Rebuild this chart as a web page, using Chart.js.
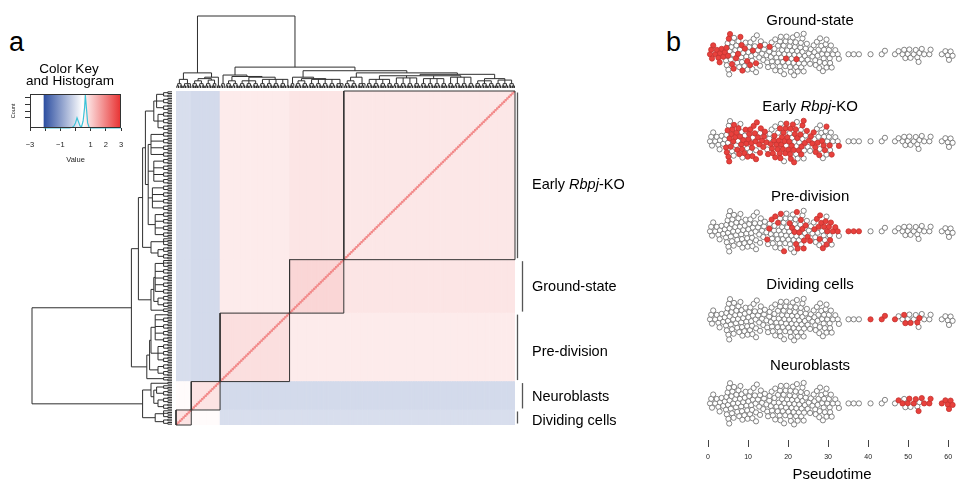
<!DOCTYPE html>
<html>
<head>
<meta charset="utf-8">
<title>Cell correlation heatmap and pseudotime</title>
<script src="https://cdn.jsdelivr.net/npm/chart.js@4.4.1/dist/chart.umd.min.js"></script>
<style>
  html, body { margin: 0; padding: 0; background: #fff; }
  body { width: 961px; height: 487px; position: relative; overflow: hidden; font-family: "Liberation Sans", Arial, sans-serif; }
  canvas { position: absolute; }
  .tag { position: absolute; font-size: 27px; line-height: 31px; color: #000; }
</style>
</head>
<body>
<div class="tag" style="left:9px;top:27px">a</div>
<div class="tag" style="left:666px;top:27px">b</div>
<canvas id="keyChart" width="135" height="110" style="left:0;top:60px"></canvas>
<canvas id="topTree" width="352" height="84" style="left:170px;top:10px"></canvas>
<canvas id="leftTree" width="153" height="346" style="left:25px;top:85px"></canvas>
<canvas id="heatChart" width="480" height="346" style="left:170px;top:85px"></canvas>
<canvas id="swarmChart" width="271" height="487" style="left:690px;top:0"></canvas>
<script>
// groups, in the order of the heatmap columns (left to right)
const groupNames = ['Dividing cells', 'Neuroblasts', 'Pre-division', 'Ground-state', 'Early Rbpj-KO'];

// pseudotime of every cell, per group
const ptDividing = [40.6, 43.4, 44.2, 46.7, 49.0, 49.3, 50.6, 52.3, 52.8];
const ptNeuroblasts = [47.6, 48.6, 49.9, 50.3, 51.4, 51.9, 52.6, 53.4, 54.0, 55.3, 55.6, 58.4, 59.3, 59.9, 60.2,
  60.6, 61.1];
const ptPreDivision = [14.8, 15.3, 15.9, 16.8, 17.5, 18.2, 19.0, 20.4, 21.0, 21.6, 22.0, 22.2, 22.4, 22.8, 23.2,
  23.6, 23.9, 24.0, 24.4, 24.9, 25.5, 26.6, 27.2, 27.6, 27.9, 28.0, 28.3, 28.7, 29.0, 29.4, 29.6, 29.8, 30.2,
  30.5, 30.7, 31.2, 31.8, 32.4, 35.1, 36.4, 37.7];
const ptGroundState = [0.5, 0.8, 1.0, 1.3, 1.8, 2.2, 2.6, 2.9, 3.0, 3.4, 3.8, 4.2, 4.6, 5.0, 5.2, 5.5, 6.0, 6.4,
  7.0, 7.5, 8.1, 8.4, 8.6, 9.2, 9.8, 10.5, 11.2, 12.0, 13.0, 15.4, 19.5, 22.1];
const ptEarlyKO = [4.5, 4.7, 4.9, 5.1, 5.3, 5.4, 5.7, 5.9, 6.1, 6.3, 6.5, 6.8, 7.1, 7.3, 7.6, 7.8, 8.0,
  8.3, 8.5, 8.8, 9.1, 9.4, 9.6, 9.9, 10.1, 10.3, 10.6, 10.8, 11.0, 11.1, 11.4, 11.7, 11.9, 12.0, 12.2,
  12.5, 12.8, 13.0, 13.2, 13.5, 13.8, 14.0, 14.2, 14.6, 15.0, 15.7, 16.0, 16.2, 16.5, 16.6, 16.8, 17.1, 17.4,
  17.7, 17.9, 18.0, 18.1, 18.3, 18.5, 18.7, 18.9, 19.1, 19.3, 19.4, 19.6, 19.8, 20.1, 20.3, 20.5, 20.6, 20.7,
  20.9, 21.2, 21.4, 21.5, 21.7, 21.9, 22.3, 22.7, 23.1, 23.3, 23.4, 23.6, 23.9, 24.2, 24.7, 25.2, 25.7, 26.1,
  26.4, 26.8, 26.9, 27.4, 27.8, 28.5, 28.9, 29.2, 29.6, 30.4, 30.9, 32.7];
const pseudotimeTicks = [0, 10, 20, 30, 40, 50, 60];

// mean scaled correlation between groups (same order as groupNames)
const blockDividing    = [0.80, 0.50, -0.02, -0.02, -0.02];
const blockNeuroblasts = [0.50, 0.80, -0.08, -0.08, -0.08];
const blockPreDivision = [-0.02, -0.08, 0.85, 0.70, 0.70];
const blockGroundState = [-0.02, -0.08, 0.70, 0.95, 0.77];
const blockEarlyKO     = [-0.02, -0.08, 0.70, 0.77, 0.74];
const selfCorrelation = 1.9;

// colour key
const keyMin = -2.1, keyMid = 0.45, keyMax = 3;
const keyTicks = [-3, -2, -1, 0, 1, 2, 3];
const keyLabelled = [-3, -1, 1, 2, 3];
const histValue = [-2.1, -0.4, -0.2, -0.1, 0.0, 0.1, 0.2, 0.3, 0.4, 0.5, 0.6, 0.65, 0.7, 0.8, 0.9, 1.0, 3.0];
const histCount = [0, 0, 20, 60, 150, 300, 180, 60, 40, 200, 600, 970, 700, 150, 20, 0, 0];
const countTicks = [300, 500, 700, 900];

// cluster tree: numbers are small twigs of n leaves, h is merge height (root = 1)
const treeDividing = { h: 0.12, c: [4, 5] };
const treeNeuroblasts = { h: 0.15, c: [{ h: 0.13, c: [{ h: 0.10, c: [4, 4] }, { h: 0.11, c: [4, 3] }] }, 2] };
const treePreDivision = { h: 0.18, c: [3, { h: 0.16, c: [{ h: 0.10, c: [4, 4] },
  { h: 0.15, c: [{ h: 0.10, c: [4, 4, 4] }, { h: 0.12, c: [4, 4, 4, 4, 2] }] }] }] };
const treeGroundState = { h: 0.15, c: [3, { h: 0.13, c: [{ h: 0.10, c: [4, 4] }, { h: 0.12, c: [4, 4, 4, 4, 5] }] }] };
const treeEarlyKO = { h: 0.21, c: [
  { h: 0.15, c: [{ h: 0.10, c: [4, 4] }, 5] },
  { h: 0.19, c: [
    { h: 0.17, c: [{ h: 0.12, c: [4, 4, 4, 4] }, { h: 0.14, c: [4, 4, 4, 4] }, { h: 0.13, c: [4, 4, 4, 4] },
      { h: 0.15, c: [4, 4, 4, 4] }] },
    { h: 0.13, c: [{ h: 0.10, c: [4, 4, 4] }, { h: 0.11, c: [4, 4, 4] }] }] }] };
const treeRoot = { h: 1, c: [{ h: 0.21, c: [treeDividing, treeNeuroblasts] },
  { h: 0.29, c: [treePreDivision, { h: 0.24, c: [treeGroundState, treeEarlyKO] }] }] };
const twigPairH = 0.03, twigTopH = 0.06;

const FONT = '"Liberation Sans", Arial, sans-serif';
Chart.defaults.font.family = FONT;
Chart.defaults.color = '#000';
Chart.defaults.animation = false;
Chart.defaults.events = [];
Chart.defaults.plugins.legend.display = false;
Chart.defaults.plugins.tooltip.enabled = false;

const groupPseudotime = [ptDividing, ptNeuroblasts, ptPreDivision, ptGroundState, ptEarlyKO];
const blockMeans = [blockDividing, blockNeuroblasts, blockPreDivision, blockGroundState, blockEarlyKO];
const groupSizes = groupPseudotime.map(a => a.length);
const groupStart = [];
let nCells = 0;
groupSizes.forEach(n => { groupStart.push(nCells); nCells += n; });
const cellGroup = [];
groupSizes.forEach((n, g) => { for (let i = 0; i < n; i++) cellGroup.push(g); });
const cellIdx = cellGroup.map((g, i) => i);

function heatColor(v) {
  const blue = [44, 78, 160], red = [232, 48, 48];
  let t, end;
  if (v <= keyMid) { t = (keyMid - v) / (keyMid - keyMin); end = blue; }
  else { t = (v - keyMid) / (keyMax - keyMid); end = red; }
  t = Math.max(0, Math.min(1, t));
  const c = end.map(e => Math.round(255 + (e - 255) * t));
  return `rgb(${c[0]},${c[1]},${c[2]})`;
}

function drawLabel(ctx, text, x, y, align, size) {
  const parts = text.split(/(Rbpj)/).filter(Boolean);
  const fontFor = p => (p === 'Rbpj' ? 'italic ' : '') + size + 'px ' + FONT;
  let total = 0;
  parts.forEach(p => { ctx.font = fontFor(p); total += ctx.measureText(p).width; });
  let cx = align === 'center' ? x - total / 2 : x;
  ctx.textAlign = 'left';
  ctx.textBaseline = 'middle';
  ctx.fillStyle = '#000';
  parts.forEach(p => { ctx.font = fontFor(p); ctx.fillText(p, cx, y); cx += ctx.measureText(p).width; });
}

// ---- dendrogram segments ----
function joinNodes(kids, h, segs) {
  if (kids.length === 1) return kids[0];
  kids.forEach(k => segs.push([[k.x, k.h], [k.x, h]]));
  segs.push([[kids[0].x, h], [kids[kids.length - 1].x, h]]);
  return { x: (kids[0].x + kids[kids.length - 1].x) / 2, h };
}
function layoutTree(node, state, segs) {
  if (typeof node === 'number') {
    const kids = [];
    for (let i = 0; i < node; i += 2) {
      const a = state.next++ + 0.5;
      if (i + 1 < node) {
        const b = state.next++ + 0.5;
        segs.push([[a, 0], [a, twigPairH], [b, twigPairH], [b, 0]]);
        kids.push({ x: (a + b) / 2, h: twigPairH });
      } else kids.push({ x: a, h: 0 });
    }
    return joinNodes(kids, twigTopH, segs);
  }
  const kids = node.c.map(ch => layoutTree(ch, state, segs));
  return joinNodes(kids, node.h, segs);
}
const treeSegs = [];
layoutTree(treeRoot, { next: 0 }, treeSegs);

function treePoints(swap) {
  const pts = [];
  treeSegs.forEach(seg => {
    seg.forEach(([p, h]) => pts.push(swap ? { x: h, y: p } : { x: p, y: h }));
    pts.push({ x: NaN, y: NaN });
  });
  return pts;
}
const treeStyle = { showLine: true, borderColor: '#2e2e2e', borderWidth: 1, pointRadius: 0, clip: false };

new Chart(document.getElementById('topTree'), {
  type: 'scatter',
  data: { datasets: [{ ...treeStyle, data: treePoints(false) }] },
  options: {
    responsive: false,
    layout: { padding: { left: 6, right: 7, top: 6, bottom: 6 } },
    scales: {
      x: { type: 'linear', min: 0, max: nCells, display: false },
      y: { type: 'linear', min: 0, max: 1, display: false }
    }
  }
});

new Chart(document.getElementById('leftTree'), {
  type: 'scatter',
  data: { datasets: [{ ...treeStyle, data: treePoints(true) }] },
  options: {
    responsive: false,
    layout: { padding: { left: 7, right: 6, top: 6, bottom: 6 } },
    scales: {
      x: { type: 'linear', min: 0, max: 1, reverse: true, display: false },
      y: { type: 'linear', min: 0, max: nCells, display: false }
    }
  }
});

// ---- heatmap ----
const heatDatasets = groupNames.map((name, r) => ({
  type: 'bar',
  data: cellIdx.map(c => ({ x: c + 0.5, y: [groupStart[r], groupStart[r] + groupSizes[r]] })),
  backgroundColor: cellIdx.map(c => heatColor(blockMeans[r][cellGroup[c]])),
  order: 3
}));
heatDatasets.push({
  type: 'bar',
  data: cellIdx.map(c => ({ x: c + 0.5, y: [c, c + 1] })),
  backgroundColor: heatColor(selfCorrelation),
  order: 2
});
const boxPts = [];
groupNames.forEach((n, g) => {
  const s = groupStart[g], e = s + groupSizes[g];
  boxPts.push({ x: s, y: s }, { x: e, y: s }, { x: e, y: e }, { x: s, y: e }, { x: s, y: s }, { x: NaN, y: NaN });
});
heatDatasets.push({ type: 'line', data: boxPts, borderColor: '#333', borderWidth: 1, pointRadius: 0,
  spanGaps: false, clip: false, order: 1 });

const labelNudge = [4, 1, 5, 1, 10];
const heatLabels = {
  id: 'heatLabels',
  afterDraw(chart) {
    const { ctx, chartArea: a, scales: { y } } = chart;
    ctx.save();
    groupNames.forEach((name, g) => {
      const top = y.getPixelForValue(groupStart[g] + groupSizes[g]) + 1.5;
      const bottom = y.getPixelForValue(groupStart[g]) - 1.5;
      const bx = a.right + (g % 2 === 0 ? 2.5 : 7.5);
      ctx.strokeStyle = '#555';
      ctx.lineWidth = 1.3;
      ctx.beginPath(); ctx.moveTo(bx, top); ctx.lineTo(bx, bottom); ctx.stroke();
      drawLabel(ctx, name, a.right + 17, (top + bottom) / 2 + labelNudge[g], 'left', 14.5);
    });
    ctx.restore();
  }
};

new Chart(document.getElementById('heatChart'), {
  type: 'bar',
  data: { datasets: heatDatasets },
  options: {
    responsive: false,
    layout: { padding: { left: 6, right: 135, top: 6, bottom: 6 } },
    datasets: { bar: { barPercentage: 1, categoryPercentage: 1, grouped: false, borderWidth: 0 } },
    scales: {
      x: { type: 'linear', min: 0, max: nCells, offset: false, display: false },
      y: { type: 'linear', min: 0, max: nCells, display: false }
    }
  },
  plugins: [heatLabels]
});

// ---- colour key ----
const keyPaint = {
  id: 'keyPaint',
  beforeDatasetsDraw(chart) {
    const { ctx, chartArea: a, scales: { x } } = chart;
    const x0 = x.getPixelForValue(keyMin), x1 = x.getPixelForValue(keyMax);
    const grad = ctx.createLinearGradient(x0, 0, x1, 0);
    grad.addColorStop(0, heatColor(keyMin));
    grad.addColorStop((keyMid - keyMin) / (keyMax - keyMin), heatColor(keyMid));
    grad.addColorStop(1, heatColor(keyMax));
    ctx.save();
    ctx.fillStyle = '#fff';
    ctx.fillRect(a.left, a.top, a.width, a.height);
    ctx.fillStyle = grad;
    ctx.fillRect(x0, a.top, x1 - x0, a.height);
    ctx.restore();
  },
  afterDraw(chart) {
    const { ctx, chartArea: a } = chart;
    ctx.save();
    ctx.strokeStyle = '#333';
    ctx.lineWidth = 1;
    ctx.strokeRect(a.left + 0.5, a.top + 0.5, a.width - 1, a.height - 1);
    ctx.fillStyle = '#000';
    ctx.textAlign = 'center';
    ctx.textBaseline = 'middle';
    ctx.font = '13.5px ' + FONT;
    ctx.fillText('Color Key', 69, 9);
    ctx.fillText('and Histogram', 70, 21);
    ctx.restore();
  }
};

new Chart(document.getElementById('keyChart'), {
  type: 'line',
  data: {
    datasets: [{
      data: histValue.map((v, i) => ({ x: v, y: histCount[i] })),
      borderColor: '#3cc3d8', borderWidth: 1.2, pointRadius: 0, tension: 0, clip: false
    }]
  },
  options: {
    responsive: false,
    layout: { padding: { left: 10, right: 14, top: 34, bottom: 0 } },
    scales: {
      x: {
        type: 'linear', min: -3, max: 3,
        afterBuildTicks: s => { s.ticks = keyTicks.map(v => ({ value: v })); },
        afterFit: s => { s.height = 42; },
        ticks: {
          autoSkip: false, maxRotation: 0, padding: 9, color: '#222', font: { size: 7.5 },
          callback: v => keyLabelled.includes(v) ? String(v).replace('-', '\u2212') : ''
        },
        grid: { drawOnChartArea: false, drawTicks: true, tickLength: 3, color: '#333' },
        border: { display: false },
        title: { display: true, text: 'Value', font: { size: 7.5 }, color: '#222', padding: { top: 0, bottom: 6 } }
      },
      y: {
        type: 'linear', min: 0, max: 1000,
        afterBuildTicks: s => { s.ticks = countTicks.map(v => ({ value: v })); },
        afterFit: s => { s.width = 20; },
        ticks: { display: false },
        grid: { drawOnChartArea: false, drawTicks: true, tickLength: 5, color: '#333' },
        border: { display: false },
        title: { display: true, text: 'Count', font: { size: 5.5 }, color: '#222', padding: 0 }
      }
    }
  },
  plugins: [keyPaint]
});

// ---- beeswarm of pseudotime ----
const swarmPanels = [
  { group: 3, centre: 50, titleY: 16 },
  { group: 4, centre: 138, titleY: 103 },
  { group: 2, centre: 229, titleY: 194 },
  { group: 0, centre: 318, titleY: 283 },
  { group: 1, centre: 403, titleY: 365 }
];
const pxPerUnit = 253 / 62;
const spacing = 4.8;
const allCells = [];
groupPseudotime.forEach((arr, g) => arr.forEach(t => allCells.push({ t, g })));
allCells.sort((a, b) => a.t - b.t);
const placed = [];
allCells.forEach(c => {
  const x = c.t * pxPerUnit;
  const near = placed.filter(p => Math.abs(p.x - x) < spacing);
  const cands = [0];
  near.forEach(p => {
    const dy = Math.sqrt(spacing * spacing - (p.x - x) * (p.x - x));
    cands.push(p.y + dy, p.y - dy);
  });
  cands.sort((a, b) => Math.abs(a) - Math.abs(b) || a - b);
  const y = cands.find(cy => near.every(p => (p.x - x) ** 2 + (p.y - cy) ** 2 >= spacing * spacing - 1e-6));
  placed.push({ x, y });
  c.off = y;
});

const swarmDatasets = [];
swarmPanels.forEach(p => {
  swarmDatasets.push({
    data: allCells.filter(c => c.g === p.group).map(c => ({ x: c.t, y: p.centre + c.off })),
    backgroundColor: '#e8413d', borderColor: '#c4322f', borderWidth: 0.8, pointRadius: 2.6, order: 0, clip: false
  });
  swarmDatasets.push({
    data: allCells.filter(c => c.g !== p.group).map(c => ({ x: c.t, y: p.centre + c.off })),
    backgroundColor: '#ffffff', borderColor: '#666', borderWidth: 0.8, pointRadius: 2.6, order: 1, clip: false
  });
});

const swarmTitles = {
  id: 'swarmTitles',
  afterDraw(chart) {
    const { ctx, scales: { x, y } } = chart;
    ctx.save();
    swarmPanels.forEach(p => drawLabel(ctx, groupNames[p.group], x.getPixelForValue(25.5), y.getPixelForValue(p.titleY), 'center', 15));
    ctx.restore();
  }
};

new Chart(document.getElementById('swarmChart'), {
  type: 'scatter',
  data: { datasets: swarmDatasets },
  options: {
    responsive: false,
    layout: { padding: { left: 18, right: 0, top: 0, bottom: 0 } },
    scales: {
      x: {
        type: 'linear', min: 0, max: 62,
        afterBuildTicks: s => { s.ticks = pseudotimeTicks.map(v => ({ value: v })); },
        afterFit: s => { s.height = 47; },
        ticks: { autoSkip: false, maxRotation: 0, padding: 6, color: '#222', font: { size: 7 } },
        grid: { drawOnChartArea: false, drawTicks: true, tickLength: 7, color: '#444' },
        border: { display: false },
        title: { display: true, text: 'Pseudotime', font: { size: 15 }, color: '#000', padding: { top: 0, bottom: 3 } }
      },
      y: { type: 'linear', min: 0, max: 440, reverse: true, display: false }
    }
  },
  plugins: [swarmTitles]
});
</script>
</body>
</html>
